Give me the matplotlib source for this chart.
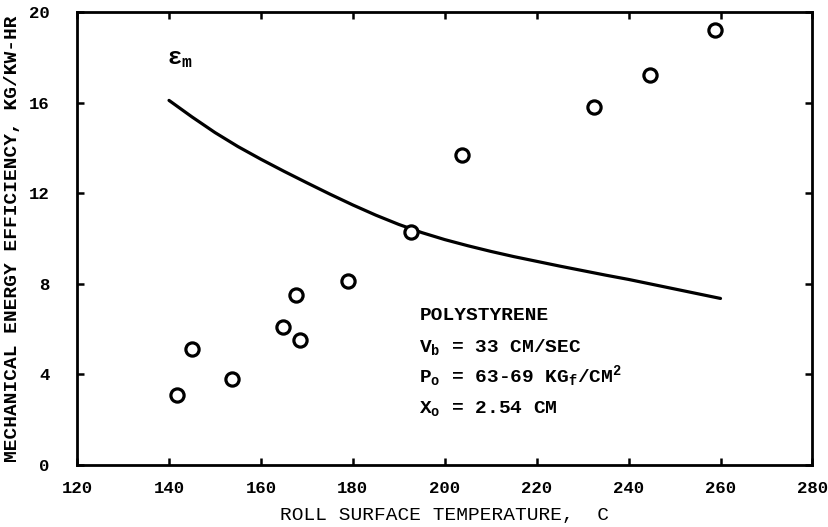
import matplotlib
matplotlib.use("Agg")
import matplotlib.pyplot as plt

# measured points (roll surface temperature, C) vs efficiency (kg/kW-hr)
temp_pts = [141.7, 144.9, 153.6, 164.7, 167.7, 168.4, 178.9, 192.6, 203.7, 232.5, 244.7, 258.9]
eff_pts = [3.1, 5.1, 3.8, 6.1, 7.5, 5.5, 8.1, 10.3, 13.7, 15.8, 17.2, 19.2]

# epsilon_m curve
curve_t = [140, 145, 150, 155, 160, 165, 170, 175, 180, 185, 190, 195, 200,
           205, 210, 215, 220, 225, 230, 235, 240, 245, 250, 255, 260]
curve_e = [16.10, 15.37, 14.68, 14.06, 13.50, 12.97, 12.46, 11.96, 11.48,
           11.03, 10.62, 10.26, 9.95, 9.68, 9.43, 9.20, 8.99, 8.78, 8.58,
           8.38, 8.19, 7.98, 7.77, 7.56, 7.35]

x_ticks = [120, 140, 160, 180, 200, 220, 240, 260, 280]
y_ticks = [0, 4, 8, 12, 16, 20]

FONT = "Liberation Mono"
plt.rcParams["font.family"] = FONT
plt.rcParams["mathtext.fontset"] = "custom"
plt.rcParams["mathtext.rm"] = FONT + ":bold"
plt.rcParams["mathtext.it"] = FONT + ":bold"
plt.rcParams["mathtext.bf"] = FONT + ":bold"

fig = plt.figure(figsize=(8.29, 5.27), dpi=100)
ax = fig.add_axes([0.093, 0.118, 0.887, 0.859])

ax.plot(curve_t, curve_e, color="black", lw=2.3, solid_capstyle="round")
ax.plot(temp_pts, eff_pts, "o", ms=9.5, mfc="white", mec="black", mew=2.3)

ax.set_xlim(120, 280)
ax.set_ylim(0, 20)
ax.set_xticks(x_ticks)
ax.set_yticks(y_ticks)
ax.tick_params(direction="in", top=True, right=True, length=5, width=1.8,
               labelsize=12.5)
ax.tick_params(axis="x", pad=12)
ax.tick_params(axis="y", pad=20)
for lab in ax.get_xticklabels() + ax.get_yticklabels():
    lab.set_fontweight("bold")
for s in ax.spines.values():
    s.set_linewidth(2.0)

ax.set_xlabel("ROLL SURFACE TEMPERATURE,  C", fontsize=14)
ax.set_ylabel("MECHANICAL ENERGY EFFICIENCY, KG/KW-HR", fontsize=14,
              fontweight="bold")
ax.xaxis.set_label_coords(0.5, -0.113, transform=ax.transAxes)
ax.yaxis.set_label_coords(-0.088, 0.5, transform=ax.transAxes)
ax.xaxis.label.set_va("center")
ax.yaxis.label.set_va("center")

ax.text(139.5, 17.7, r"$\varepsilon_m$", fontsize=17)
txt = dict(fontsize=14, fontweight="bold", ha="left", va="center")
ax.text(194.5, 6.6, "POLYSTYRENE", **txt)
ax.text(194.5, 5.2, r"V$_b$ = 33 CM/SEC", **txt)
ax.text(194.5, 3.9, r"P$_o$ = 63-69 KG$_f$/CM$^2$", **txt)
ax.text(194.5, 2.5, r"X$_o$ = 2.54 CM", **txt)

fig.savefig("out.png", dpi=100)
